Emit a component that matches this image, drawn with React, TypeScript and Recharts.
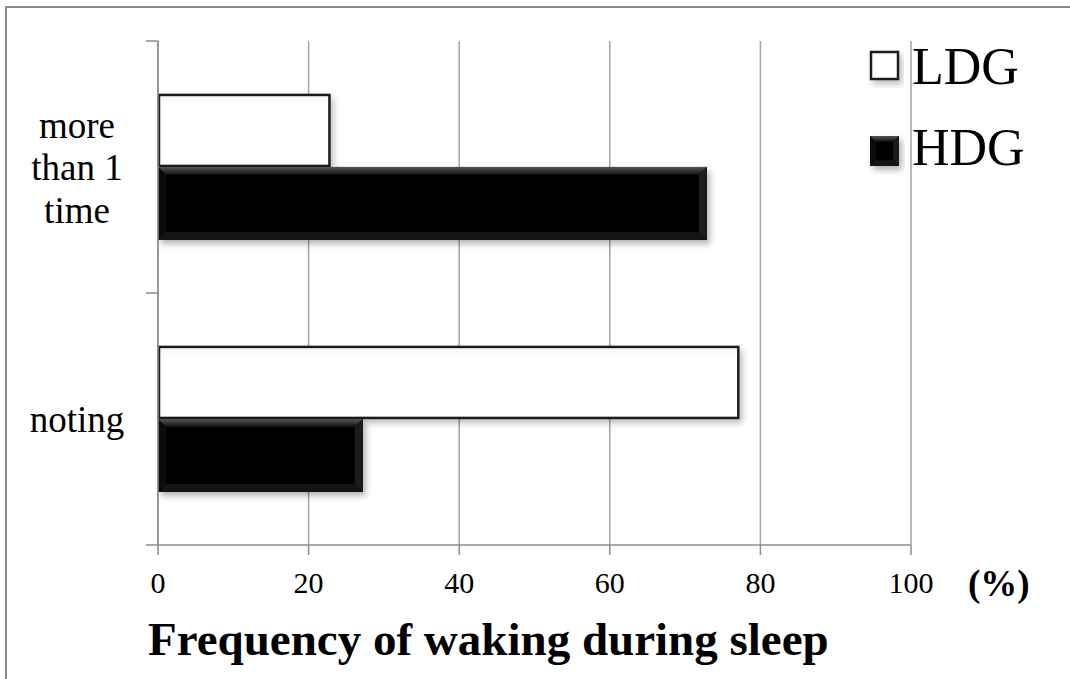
import React from 'react';
import { BarChart, Bar, XAxis, YAxis, CartesianGrid, Legend } from 'recharts';

// categories, top to bottom; each label is broken into its drawn lines
const categories = ['more than 1 time', 'noting'];
const categoryLines = [['more', 'than 1', 'time'], ['noting']];
const ldgValues = [22.9, 77.2];
const hdgValues = [72.9, 27.2];
const xTicks = [0, 20, 40, 60, 80, 100];

const data = categories.map((name, i) => ({
    name,
    lines: categoryLines[i],
    LDG: ldgValues[i],
    HDG: hdgValues[i],
}));

const FONT = 'Liberation Serif, DejaVu Serif, serif';
const AXIS_GRAY = '#8c8c8c';
const GRID_GRAY = '#a3a3a3';

const CHART_W = 1070;
const CHART_H = 679;
const MARGIN = { top: 41, right: 159, left: 8, bottom: 94 };
const PLOT_H = CHART_H - MARGIN.top - MARGIN.bottom - 40;

// white bar with a dark outline and soft shadow
function WhiteBox({ x, y, width, height }: any) {
    if (!width || width <= 0) return null;
    return (
        <g>
            <defs>
                <filter id="shadowW" x="-10%" y="-20%" width="130%" height="150%">
                    <feDropShadow dx="3" dy="4" stdDeviation="3" floodColor="#000" floodOpacity="0.25" />
                </filter>
                <linearGradient id="whiteFill" x1="0" y1="0" x2="0" y2="1">
                    <stop offset="0" stopColor="#f4f4f4" />
                    <stop offset="0.15" stopColor="#ffffff" />
                    <stop offset="1" stopColor="#ffffff" />
                </linearGradient>
            </defs>
            <rect
                x={x + 1}
                y={y + 1}
                width={width - 2}
                height={height - 2}
                fill="url(#whiteFill)"
                stroke="#1c1c1c"
                strokeWidth={2.5}
                filter="url(#shadowW)"
            />
        </g>
    );
}

// black bar with bevelled edges
function BlackBox({ x, y, width, height }: any) {
    if (!width || width <= 0) return null;
    const b = Math.min(8, width / 5, height / 5);
    const r = x + width;
    const btm = y + height;
    return (
        <g>
            <defs>
                <filter id="shadowB" x="-10%" y="-20%" width="130%" height="150%">
                    <feDropShadow dx="3" dy="4" stdDeviation="3" floodColor="#000" floodOpacity="0.3" />
                </filter>
                <linearGradient id="bevelTop" x1="0" y1="0" x2="0" y2="1">
                    <stop offset="0" stopColor="#555555" />
                    <stop offset="1" stopColor="#101010" />
                </linearGradient>
            </defs>
            <rect x={x} y={y} width={width} height={height} fill="#060606" filter="url(#shadowB)" />
            <polygon points={`${x},${y} ${r},${y} ${r - b},${y + b} ${x + b},${y + b}`} fill="url(#bevelTop)" />
            <polygon points={`${r},${y} ${r},${btm} ${r - b},${btm - b} ${r - b},${y + b}`} fill="#1c1c1c" />
            <polygon points={`${x},${btm} ${r},${btm} ${r - b},${btm - b} ${x + b},${btm - b}`} fill="#141414" />
            <polygon points={`${x},${y} ${x},${btm} ${x + b},${btm - b} ${x + b},${y + b}`} fill="#0c0c0c" />
        </g>
    );
}

// category labels plus the tick marks at the band boundaries
function CategoryTick({ x, y, payload, index }: any) {
    const lines: string[] = data[index]?.lines ?? [String(payload.value)];
    const half = payload.offset > 0 ? payload.offset : PLOT_H / categories.length / 2;
    const lineH = 42.5;
    const cx = x - 81;
    const first = y + 13 - ((lines.length - 1) * lineH) / 2;
    return (
        <g>
            <line x1={x - 12} x2={x} y1={y - half} y2={y - half} stroke={AXIS_GRAY} strokeWidth={1.5} />
            {index === categories.length - 1 && (
                <line x1={x - 12} x2={x} y1={y + half} y2={y + half} stroke={AXIS_GRAY} strokeWidth={1.5} />
            )}
            <text x={cx} y={first} textAnchor="middle" fontFamily={FONT} fontSize={37} fill="#000">
                {lines.map((ln, i) => (
                    <tspan key={i} x={cx} y={first + i * lineH}>
                        {ln}
                    </tspan>
                ))}
            </text>
        </g>
    );
}

// unit mark and chart title under the value axis
function AxisTitle({ viewBox }: any) {
    const { x, y, width } = viewBox || { x: 0, y: 0, width: 0 };
    return (
        <g fontFamily={FONT} fill="#000">
            <text x={x + width + 57} y={y + 51} fontSize={37} fontWeight="bold">
                (%)
            </text>
            <text x={x - 10} y={y + 110} fontSize={47} fontWeight="bold">
                Frequency of waking during sleep
            </text>
        </g>
    );
}

function LegendBox() {
    return (
        <svg width={210} height={150} style={{ overflow: 'visible', display: 'block' }}>
            <WhiteBox x={10} y={11} width={29} height={29} />
            <text x={52} y={44} fontFamily={FONT} fontSize={52} fill="#000">
                LDG
            </text>
            <BlackBox x={10} y={96} width={29} height={30} />
            <text x={52} y={125} fontFamily={FONT} fontSize={52} fill="#000">
                HDG
            </text>
        </svg>
    );
}

export default function App() {
    return (
        <div style={styles.page}>
            <style>{`body { margin: 0; }`}</style>
            <div style={styles.frame} />
            <BarChart
                width={CHART_W}
                height={CHART_H}
                data={data}
                layout="vertical"
                margin={MARGIN}
                barCategoryGap="21%"
                barGap={0}
            >
                <CartesianGrid horizontal={false} stroke={GRID_GRAY} strokeWidth={1.5} />
                <XAxis
                    type="number"
                    domain={[0, 100]}
                    ticks={xTicks}
                    height={40}
                    axisLine={{ stroke: AXIS_GRAY, strokeWidth: 1.5 }}
                    tickLine={{ stroke: AXIS_GRAY, strokeWidth: 1.5 }}
                    tickSize={10}
                    tickMargin={17}
                    tick={{ fill: '#000', fontSize: 30, fontFamily: FONT }}
                    label={<AxisTitle />}
                />
                <YAxis
                    type="category"
                    dataKey="name"
                    width={150}
                    axisLine={{ stroke: AXIS_GRAY, strokeWidth: 1.5 }}
                    tickLine={false}
                    tickSize={0}
                    tickMargin={0}
                    tick={<CategoryTick />}
                    interval={0}
                />
                <Legend
                    layout="horizontal"
                    align="center"
                    verticalAlign="middle"
                    content={<LegendBox />}
                    wrapperStyle={{ left: 860, top: 40, width: 210 }}
                />
                <Bar dataKey="LDG" shape={<WhiteBox />} isAnimationActive={false} />
                <Bar dataKey="HDG" shape={<BlackBox />} isAnimationActive={false} />
            </BarChart>
        </div>
    );
}

const styles: Record<string, React.CSSProperties> = {
    page: {
        position: 'relative',
        width: CHART_W,
        height: CHART_H,
        overflow: 'hidden',
        background: '#fff',
    },
    frame: {
        position: 'absolute',
        left: 5,
        top: 6,
        right: -10,
        bottom: -10,
        borderTop: '2px solid #8c8c8c',
        borderLeft: '2px solid #8c8c8c',
        pointerEvents: 'none',
    },
};
